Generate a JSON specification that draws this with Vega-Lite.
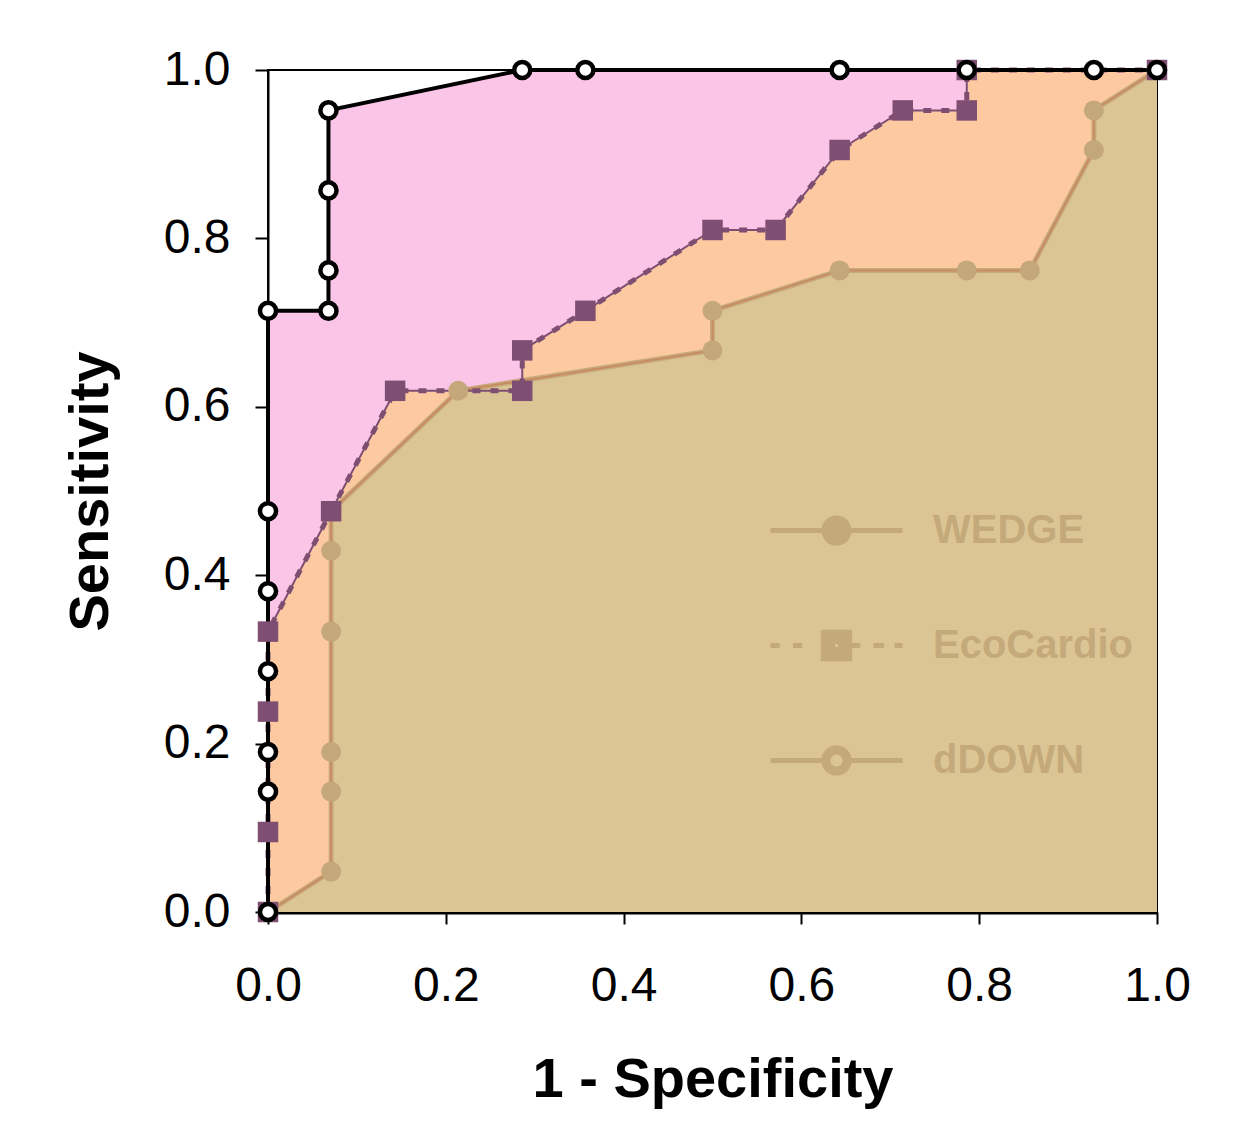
{
  "$schema": "https://vega.github.io/schema/vega-lite/v6.json",
  "width": 889,
  "height": 842,
  "autosize": {"type": "none"},
  "padding": {"left": 268, "top": 70, "right": 79, "bottom": 217},
  "background": "white",
  "config": {
    "font": "Liberation Sans",
    "view": {"stroke": "black", "strokeWidth": 2}
  },
  "datasets": {
    "roc": [
      {"series": "WEDGE", "i": 0, "fpr": 0, "tpr": 0},
      {"series": "WEDGE", "i": 1, "fpr": 0, "tpr": 0.143},
      {"series": "WEDGE", "i": 2, "fpr": 0, "tpr": 0.19},
      {"series": "WEDGE", "i": 3, "fpr": 0, "tpr": 0.286},
      {"series": "WEDGE", "i": 4, "fpr": 0, "tpr": 0.381},
      {"series": "WEDGE", "i": 5, "fpr": 0, "tpr": 0.476},
      {"series": "WEDGE", "i": 6, "fpr": 0, "tpr": 0.714},
      {"series": "WEDGE", "i": 7, "fpr": 0.068, "tpr": 0.714},
      {"series": "WEDGE", "i": 8, "fpr": 0.068, "tpr": 0.762},
      {"series": "WEDGE", "i": 9, "fpr": 0.068, "tpr": 0.857},
      {"series": "WEDGE", "i": 10, "fpr": 0.068, "tpr": 0.952},
      {"series": "WEDGE", "i": 11, "fpr": 0.286, "tpr": 1},
      {"series": "WEDGE", "i": 12, "fpr": 0.357, "tpr": 1},
      {"series": "WEDGE", "i": 13, "fpr": 0.643, "tpr": 1},
      {"series": "WEDGE", "i": 14, "fpr": 0.786, "tpr": 1},
      {"series": "WEDGE", "i": 15, "fpr": 0.929, "tpr": 1},
      {"series": "WEDGE", "i": 16, "fpr": 1, "tpr": 1},
      {"series": "EcoCardio", "i": 0, "fpr": 0, "tpr": 0},
      {"series": "EcoCardio", "i": 1, "fpr": 0, "tpr": 0.095},
      {"series": "EcoCardio", "i": 2, "fpr": 0, "tpr": 0.238},
      {"series": "EcoCardio", "i": 3, "fpr": 0, "tpr": 0.333},
      {"series": "EcoCardio", "i": 4, "fpr": 0.071, "tpr": 0.476},
      {"series": "EcoCardio", "i": 5, "fpr": 0.143, "tpr": 0.619},
      {"series": "EcoCardio", "i": 6, "fpr": 0.286, "tpr": 0.619},
      {"series": "EcoCardio", "i": 7, "fpr": 0.286, "tpr": 0.667},
      {"series": "EcoCardio", "i": 8, "fpr": 0.357, "tpr": 0.714},
      {"series": "EcoCardio", "i": 9, "fpr": 0.5, "tpr": 0.81},
      {"series": "EcoCardio", "i": 10, "fpr": 0.571, "tpr": 0.81},
      {"series": "EcoCardio", "i": 11, "fpr": 0.643, "tpr": 0.905},
      {"series": "EcoCardio", "i": 12, "fpr": 0.714, "tpr": 0.952},
      {"series": "EcoCardio", "i": 13, "fpr": 0.786, "tpr": 0.952},
      {"series": "EcoCardio", "i": 14, "fpr": 0.786, "tpr": 1},
      {"series": "EcoCardio", "i": 15, "fpr": 1, "tpr": 1},
      {"series": "dDOWN", "i": 0, "fpr": 0, "tpr": 0},
      {"series": "dDOWN", "i": 1, "fpr": 0.071, "tpr": 0.048},
      {"series": "dDOWN", "i": 2, "fpr": 0.071, "tpr": 0.143},
      {"series": "dDOWN", "i": 3, "fpr": 0.071, "tpr": 0.19},
      {"series": "dDOWN", "i": 4, "fpr": 0.071, "tpr": 0.333},
      {"series": "dDOWN", "i": 5, "fpr": 0.071, "tpr": 0.429},
      {"series": "dDOWN", "i": 6, "fpr": 0.071, "tpr": 0.476},
      {"series": "dDOWN", "i": 7, "fpr": 0.214, "tpr": 0.619},
      {"series": "dDOWN", "i": 8, "fpr": 0.5, "tpr": 0.667},
      {"series": "dDOWN", "i": 9, "fpr": 0.5, "tpr": 0.714},
      {"series": "dDOWN", "i": 10, "fpr": 0.643, "tpr": 0.762},
      {"series": "dDOWN", "i": 11, "fpr": 0.786, "tpr": 0.762},
      {"series": "dDOWN", "i": 12, "fpr": 0.857, "tpr": 0.762},
      {"series": "dDOWN", "i": 13, "fpr": 0.929, "tpr": 0.905},
      {"series": "dDOWN", "i": 14, "fpr": 0.929, "tpr": 0.952},
      {"series": "dDOWN", "i": 15, "fpr": 1, "tpr": 1}
    ]
  },
  "data": {"name": "roc"},
  "encoding": {
    "x": {
      "field": "fpr", "type": "quantitative",
      "scale": {"domain": [0, 1], "nice": false, "zero": false},
      "axis": {
        "values": [0, 0.2, 0.4, 0.6, 0.8, 1],
        "format": ".1f",
        "grid": false,
        "labelFont": "Liberation Sans", "labelFontSize": 48, "labelColor": "black",
        "labelPadding": 38, "labelFlush": false,
        "tickSize": 12, "tickWidth": 2, "tickColor": "black",
        "domainColor": "black", "domainWidth": 4,
        "title": "1 - Specificity",
        "titleFont": "Liberation Sans", "titleFontSize": 56, "titleFontWeight": "bold", "titleColor": "black",
        "titlePadding": 42
      }
    },
    "y": {
      "field": "tpr", "type": "quantitative", "stack": null,
      "scale": {"domain": [0, 1], "nice": false, "zero": false},
      "axis": {
        "values": [0, 0.2, 0.4, 0.6, 0.8, 1],
        "format": ".1f",
        "grid": false,
        "labelFont": "Liberation Sans", "labelFontSize": 48, "labelColor": "black",
        "labelPadding": 25, "labelFlush": false,
        "tickSize": 13, "tickWidth": 2, "tickColor": "black",
        "domainColor": "black", "domainWidth": 2,
        "title": "Sensitivity",
        "titleFont": "Liberation Sans", "titleFontSize": 56, "titleFontWeight": "bold", "titleColor": "black",
        "titlePadding": 44
      }
    },
    "order": {"field": "i", "type": "quantitative"}
  },
  "layer": [
    {
      "transform": [{"filter": "datum.series === 'WEDGE'"}],
      "mark": {"type": "area", "fill": "#fbc5e7", "fillOpacity": 1, "orient": "vertical"},
      "encoding": {"y2": {"datum": 0}, "order": {"value": null}}
    },
    {
      "transform": [{"filter": "datum.series === 'EcoCardio'"}],
      "mark": {"type": "area", "fill": "#fcc9a0", "fillOpacity": 1, "orient": "vertical"},
      "encoding": {"y2": {"datum": 0}, "order": {"value": null}}
    },
    {
      "transform": [{"filter": "datum.series === 'dDOWN'"}],
      "mark": {"type": "area", "fill": "#dcc595", "fillOpacity": 1, "orient": "vertical"},
      "encoding": {"y2": {"datum": 0}, "order": {"value": null}}
    },
    {
      "transform": [{"filter": "datum.series === 'dDOWN'"}],
      "mark": {"type": "line", "color": "#c6aa7c", "strokeWidth": 5}
    },
    {
      "transform": [{"filter": "datum.series === 'dDOWN'"}],
      "mark": {"type": "line", "color": "#c98b60", "strokeWidth": 2}
    },
    {
      "transform": [{"filter": "datum.series === 'EcoCardio'"}],
      "mark": {"type": "line", "color": "#7e4f72", "strokeWidth": 5, "strokeDash": [8, 10]}
    },
    {
      "transform": [{"filter": "datum.series === 'EcoCardio'"}],
      "mark": {"type": "line", "color": "#7e4f72", "strokeWidth": 2}
    },
    {
      "transform": [{"filter": "datum.series === 'WEDGE'"}],
      "mark": {"type": "line", "color": "black", "strokeWidth": 4}
    },
    {
      "transform": [{"filter": "datum.series === 'dDOWN'"}],
      "mark": {"type": "point", "shape": "circle", "filled": true, "color": "#c4a77a", "size": 400, "opacity": 1}
    },
    {
      "transform": [{"filter": "datum.series === 'EcoCardio'"}],
      "mark": {"type": "point", "shape": "square", "filled": true, "color": "#7e4f72", "size": 420, "opacity": 1}
    },
    {
      "transform": [{"filter": "datum.series === 'WEDGE'"}],
      "mark": {"type": "point", "shape": "circle", "filled": false, "fill": "white", "fillOpacity": 1, "stroke": "black", "strokeWidth": 4.5, "size": 260, "opacity": 1}
    },
    {
      "transform": [{"filter": "false"}],
      "mark": {"type": "point", "filled": false, "color": "#c4a97a", "strokeWidth": 5, "opacity": 1},
      "encoding": {
        "shape": {
          "field": "series", "type": "nominal",
          "scale": {
            "domain": ["WEDGE", "EcoCardio", "dDOWN"],
            "range": [
              "M -1,0 L 1,0 M -0.19,0 A 0.19,0.19 0 1,0 0.19,0 A 0.19,0.19 0 1,0 -0.19,0 Z M -0.12,0 A 0.12,0.12 0 1,0 0.12,0 A 0.12,0.12 0 1,0 -0.12,0 Z M -0.05,0 A 0.05,0.05 0 1,0 0.05,0 A 0.05,0.05 0 1,0 -0.05,0 Z",
              "M -1,0 L -0.86,0 M -0.66,0 L -0.52,0 M -0.2,-0.2 L 0.2,-0.2 L 0.2,0.2 L -0.2,0.2 Z M -0.13,-0.13 L 0.13,-0.13 L 0.13,0.13 L -0.13,0.13 Z M -0.06,-0.06 L 0.06,-0.06 L 0.06,0.06 L -0.06,0.06 Z M 0.2,0 L 0.36,0 M 0.56,0 L 0.72,0 M 0.88,0 L 1,0",
              "M -1,0 L -0.19,0 M 0.19,0 L 1,0 M -0.19,0 A 0.19,0.19 0 1,0 0.19,0 A 0.19,0.19 0 1,0 -0.19,0 Z M -0.13,0 A 0.13,0.13 0 1,0 0.13,0 A 0.13,0.13 0 1,0 -0.13,0 Z"
            ]
          },
          "legend": {
            "orient": "none", "legendX": 500, "legendY": 392,
            "title": null,
            "symbolSize": 17424,
            "symbolStrokeWidth": 5,
            "symbolStrokeColor": "#c4a97a",
            "symbolOpacity": 1,
            "labelFont": "Liberation Sans", "labelFontSize": 40, "labelFontWeight": "bold",
            "labelColor": "#c4a97a", "labelOffset": 28, "labelLimit": 400,
            "rowPadding": 23
          }
        }
      }
    }
  ]
}
